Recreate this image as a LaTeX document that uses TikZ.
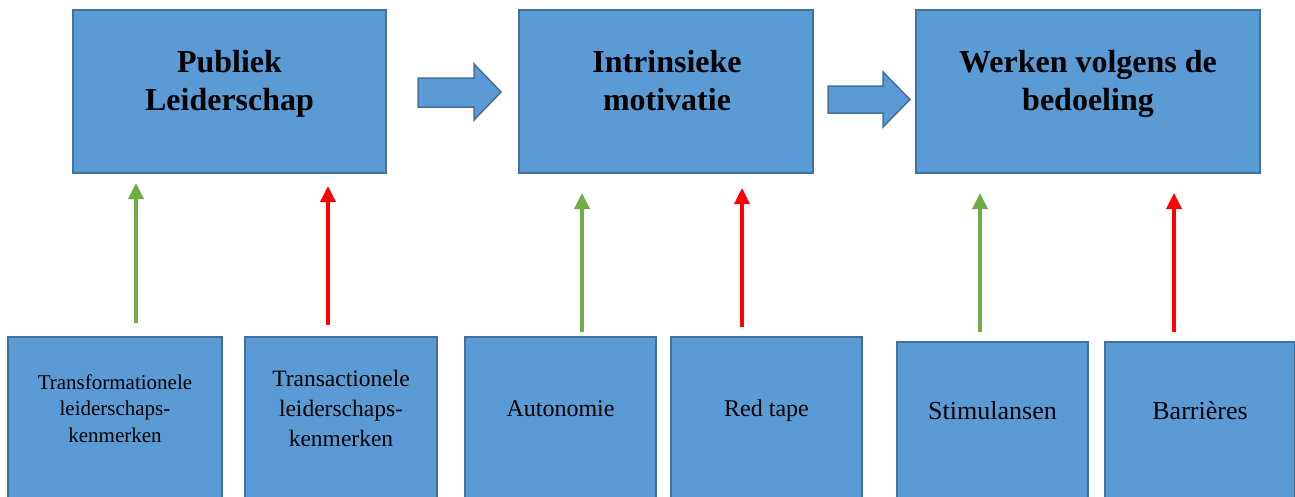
\documentclass[tikz,border=0pt]{standalone}
\usepackage{fontspec}
\setmainfont{Liberation Serif}
\usetikzlibrary{arrows.meta}

\definecolor{boxfill}{HTML}{5B9BD5}
\definecolor{boxline}{HTML}{41719C}
\definecolor{posgreen}{HTML}{70AD47}
\definecolor{negred}{HTML}{FF0000}

\tikzset{
	mainbox/.style={draw=boxline, fill=boxfill, line width=2pt, minimum height=163pt, inner sep=0pt},
	factorbox/.style={draw=boxline, fill=boxfill, line width=2pt, inner sep=0pt},
	titletext/.style={font=\fontsize{32}{38}\selectfont\bfseries, align=center, anchor=north, inner sep=0pt},
	blockarrow/.style={draw=boxline, fill=boxfill, line width=1.5pt, line join=miter},
	posarrow/.style={draw=posgreen, line width=3.5pt, -{Triangle[width=15pt,length=16pt]}},
	negarrow/.style={draw=negred, line width=3.5pt, -{Triangle[width=15pt,length=16pt]}}
}

\begin{document}
\begin{tikzpicture}[x=1pt, y=-1pt]
		
		\path[use as bounding box] (0,0) rectangle (1295,496);
		\clip (0,0) rectangle (1295,496);
		
		% Draw the three main boxes
		\node[mainbox, minimum width=313pt] (lead) at (229.5, 91.5) {};
		\node[mainbox, minimum width=294pt] (motiv) at (666, 91.5) {};
		\node[mainbox, minimum width=344pt] (work) at (1088, 91.5) {};
		
		\node[titletext] (leadtxt) at (229.5, 50) {Publiek\\Leiderschap};
		\node[titletext] (motivtxt) at (667, 50) {Intrinsieke\\motivatie};
		\node[titletext] (worktxt) at (1088, 50) {Werken volgens de\\bedoeling};
		
		% Block arrows between the main boxes
		\draw[blockarrow] (418,78) -- (474,78) -- (474,64) -- (501,92) -- (474,120) -- (474,107) -- (418,107) -- cycle;
		\draw[blockarrow] (828,86) -- (883,86) -- (883,72) -- (910,99.5) -- (883,127) -- (883,113) -- (828,113) -- cycle;
		
		% Draw the factor boxes
		\node[factorbox, minimum width=214pt, minimum height=183pt] (transf) at (115, 428.5) {};
		\node[factorbox, minimum width=192pt, minimum height=183pt] (transa) at (341, 428.5) {};
		\node[factorbox, minimum width=191pt, minimum height=183pt] (auto) at (560.5, 428.5) {};
		\node[factorbox, minimum width=191pt, minimum height=183pt] (tape) at (766.5, 428.5) {};
		\node[factorbox, minimum width=191pt, minimum height=178pt] (stim) at (992.5, 431) {};
		\node[factorbox, minimum width=190pt, minimum height=178pt] (barr) at (1200, 431) {};
		
		\node[font=\fontsize{21}{26.3}\selectfont, align=center, anchor=north, inner sep=0pt] (transftxt) at (115, 374.5) {Transformationele\\leiderschaps-\\kenmerken};
		\node[font=\fontsize{23.5}{30}\selectfont, align=center, anchor=north, inner sep=0pt] (transatxt) at (341, 370) {Transactionele\\leiderschaps-\\kenmerken};
		\node[font=\fontsize{24}{28}\selectfont, anchor=base, inner sep=0pt] (autotxt) at (560.5, 416) {Autonomie};
		\node[font=\fontsize{24}{28}\selectfont, anchor=base, inner sep=0pt] (tapetxt) at (766.5, 416) {Red tape};
		\node[font=\fontsize{26}{30}\selectfont, anchor=base, inner sep=0pt] (stimtxt) at (992.5, 419) {Stimulansen};
		\node[font=\fontsize{26}{30}\selectfont, anchor=base, inner sep=0pt] (barrtxt) at (1200, 419) {Barrières};
		
		% Define the end points of the influence arrows
		\coordinate (g1a) at (136, 323);
		\coordinate (g1b) at (136, 183);
		\coordinate (r1a) at (328, 325);
		\coordinate (r1b) at (328, 186);
		\coordinate (g2a) at (582, 332);
		\coordinate (g2b) at (582, 193);
		\coordinate (r2a) at (742, 327);
		\coordinate (r2b) at (742, 188);
		\coordinate (g3a) at (980, 332);
		\coordinate (g3b) at (980, 193);
		\coordinate (r3a) at (1174, 332);
		\coordinate (r3b) at (1174, 193);
		
		% Draw the positive influences in green
		\draw[posarrow] (g1a) -- (g1b);
		\draw[posarrow] (g2a) -- (g2b);
		\draw[posarrow] (g3a) -- (g3b);
		
		% Draw the negative influences in red
		\draw[negarrow] (r1a) -- (r1b);
		\draw[negarrow] (r2a) -- (r2b);
		\draw[negarrow] (r3a) -- (r3b);
		
	\end{tikzpicture}
\end{document}
